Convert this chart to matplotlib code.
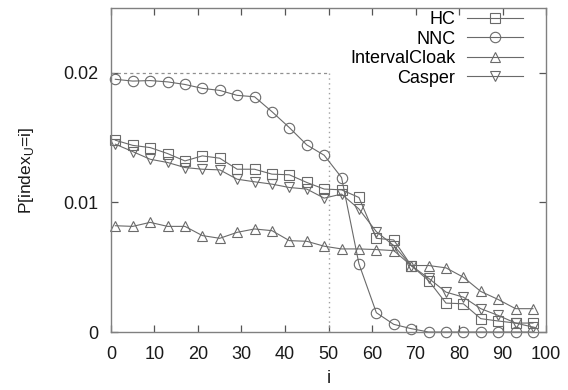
import matplotlib
matplotlib.use("Agg")
import matplotlib.pyplot as plt

plt.rcParams['font.family'] = ['Liberation Sans', 'DejaVu Sans']

# sample positions (i)
idx = [1, 5, 9, 13, 17, 21, 25, 29, 33, 37, 41, 45, 49,
       53, 57, 61, 65, 69, 73, 77, 81, 85, 89, 93, 97]

hc = [0.0148, 0.0144, 0.01423, 0.01377, 0.0132, 0.01359, 0.01341, 0.01256,
      0.01256, 0.01218, 0.01213, 0.01154, 0.01103, 0.01097, 0.01038, 0.00723,
      0.0071, 0.00513, 0.00397, 0.00223, 0.00218, 0.00103, 0.00085, 0.00069,
      0.00069]
nnc = [0.0195, 0.01936, 0.0194, 0.0193, 0.0191, 0.0188, 0.01864, 0.01826,
       0.01815, 0.0170, 0.01577, 0.01444, 0.01364, 0.01192, 0.00526, 0.00149,
       0.00059, 0.00026, 0.0, 0.0, 0.0, 0.0, 0.0, 0.0, 0.0]
interval_cloak = [0.0082, 0.00815, 0.00846, 0.00815, 0.00815, 0.00744, 0.00723,
                  0.00769, 0.00795, 0.00782, 0.00705, 0.0070, 0.00662, 0.00641,
                  0.00641, 0.00636, 0.00628, 0.00513, 0.00513, 0.00495, 0.00423,
                  0.00313, 0.00251, 0.0018, 0.0018]
casper = [0.01449, 0.01392, 0.01333, 0.01308, 0.01269, 0.01256, 0.01251,
          0.01179, 0.01159, 0.01141, 0.01115, 0.01103, 0.01033, 0.01064,
          0.00949, 0.00774, 0.00667, 0.00513, 0.00415, 0.00308, 0.00269,
          0.0018, 0.00128, 0.00069, 0.00038]

series = [("HC", hc, "s"), ("NNC", nnc, "o"),
          ("IntervalCloak", interval_cloak, "^"), ("Casper", casper, "v")]

line_col = '#6a6a6a'
axis_col = '#808080'
text_col = '#1a1a1a'

fig = plt.figure(figsize=(5.68, 3.9), dpi=100)
ax = fig.add_axes([0.1954, 0.1487, 0.7659, 0.8308])

# reference guide lines
ax.plot([0, 50], [0.02, 0.02], color='#909090', lw=0.9, ls=(0, (2.5, 2.5)))
ax.plot([50, 50], [0, 0.02], color='#a0a0a0', lw=1.0, ls=(0, (1, 2.5)))

for name, vals, mk in series:
    ax.plot(idx, vals, color=line_col, lw=0.8, marker=mk, markersize=7.5,
            markerfacecolor='none', markeredgecolor=line_col,
            markeredgewidth=0.8, label=name, clip_on=False)

ax.set_xlim(0, 100)
ax.set_ylim(0, 0.025)
ax.set_xticks(range(0, 101, 10))
ax.set_yticks([0, 0.01, 0.02])
ax.set_yticklabels(['0', '0.01', '0.02'])

for s in ax.spines.values():
    s.set_color(axis_col)
    s.set_linewidth(1.0)
ax.tick_params(direction='in', length=5, width=0.9, color='#555555',
               top=True, right=True, labelsize=13, labelcolor=text_col)
ax.tick_params(axis='x', pad=10)
ax.tick_params(axis='y', pad=9)

ax.set_xlabel('i', fontsize=13, color=text_col, labelpad=5)
ax.set_ylabel(r'P[index$_\mathregular{U}$=i]', fontsize=12.5, color=text_col,
              labelpad=20)

leg = ax.legend(loc='upper right', markerfirst=False, frameon=False,
                fontsize=13, handlelength=3.1, handletextpad=0.65,
                labelspacing=0.14, borderpad=0, borderaxespad=0,
                bbox_to_anchor=(523 / 568, 1 - 11 / 390),
                bbox_transform=fig.transFigure)

fig.savefig('out.png', dpi=100)
